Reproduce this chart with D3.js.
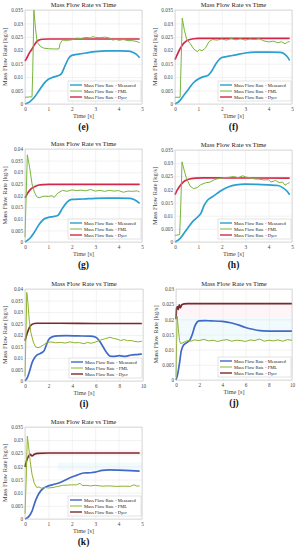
<!DOCTYPE html>
<html>
<head>
<meta charset="utf-8">
<script src="https://cdn.jsdelivr.net/npm/d3@7"></script>
<style>
  body { margin: 0; background: #fff; }
  svg { display: block; font-family: "Liberation Serif", "DejaVu Serif", serif; }
</style>
</head>
<body>
<div id="chart"></div>
<script>
// data: [time s, mass flow kg/s]
const eMeasured = [[0,0],[0.2,0.0008],[0.4,0.0025],[0.6,0.005],[0.8,0.0075],[1.0,0.0092],[1.2,0.0100],[1.4,0.0105],[1.55,0.0112],[1.7,0.0140],[1.85,0.0168],[2.0,0.0181],[2.3,0.0186],[2.6,0.0190],[3.0,0.0195],[3.5,0.0198],[4.0,0.0198],[4.4,0.0197],[4.6,0.0193],[4.75,0.0186],[4.9,0.0172]];
const eFml = [[0,0.0025],[0.3,0.0027],[0.33,0.012],[0.38,0.035],[0.45,0.028],[0.52,0.023],[0.65,0.0215],[0.8,0.0208],[1.0,0.0206],[1.2,0.0205],[1.45,0.0205],[1.5,0.0225],[1.6,0.0238],[1.8,0.0237],[2.0,0.0239],[2.2,0.0245],[2.4,0.0244],[2.6,0.0248],[2.8,0.0246],[2.9,0.0251],[3.0,0.0248],[3.2,0.0247],[3.4,0.0249],[3.6,0.0246],[3.75,0.0238],[3.9,0.0241],[4.0,0.0237],[4.2,0.0240],[4.4,0.0236],[4.6,0.0236],[4.8,0.0232],[4.9,0.0228]];
const eDyer = [[0,0.0160],[0.1,0.0175],[0.2,0.0192],[0.3,0.0205],[0.4,0.0220],[0.5,0.0232],[0.6,0.0238],[0.75,0.0241],[1.0,0.0242],[2,0.0242],[3,0.0242],[4,0.0242],[4.9,0.0242]];

const fMeasured = [[0,0],[0.2,0.0012],[0.4,0.0035],[0.6,0.0058],[0.8,0.0080],[1.0,0.0093],[1.2,0.0101],[1.4,0.0106],[1.55,0.0120],[1.75,0.0150],[2.0,0.0173],[2.3,0.0178],[2.6,0.0183],[3.0,0.0190],[3.5,0.0193],[4.0,0.0193],[4.5,0.0192],[4.7,0.0185],[4.85,0.0170],[4.9,0.0162]];
const fFml = [[0,0.0025],[0.22,0.0025],[0.26,0.015],[0.31,0.032],[0.4,0.0275],[0.5,0.024],[0.65,0.0225],[0.8,0.0205],[0.95,0.0195],[1.05,0.0203],[1.15,0.0198],[1.3,0.0208],[1.45,0.0232],[1.6,0.0240],[1.8,0.0238],[2.0,0.0242],[2.2,0.0238],[2.4,0.0244],[2.6,0.0239],[2.8,0.0243],[3.0,0.0238],[3.2,0.0242],[3.4,0.0240],[3.6,0.0243],[3.8,0.0235],[4.0,0.0231],[4.2,0.0234],[4.4,0.0228],[4.55,0.0232],[4.7,0.0224],[4.8,0.0230],[4.9,0.0233]];
const fDyer = [[0,0.0165],[0.1,0.0185],[0.2,0.0203],[0.3,0.0218],[0.45,0.0232],[0.6,0.0239],[0.8,0.0243],[1.0,0.0244],[4.9,0.0244]];

const gMeasured = [[0,0],[0.2,0.0015],[0.4,0.0042],[0.6,0.0075],[0.8,0.0098],[1.0,0.0106],[1.2,0.0109],[1.4,0.0114],[1.6,0.0145],[1.8,0.0172],[2.0,0.0183],[2.5,0.0185],[3.0,0.0188],[3.5,0.0189],[4.0,0.0189],[4.5,0.0188],[4.7,0.0181],[4.9,0.0166]];
const gFml = [[0,0.002],[0.05,0.02],[0.1,0.0375],[0.2,0.032],[0.3,0.025],[0.4,0.0215],[0.5,0.0195],[0.6,0.019],[0.8,0.0197],[1.0,0.0196],[1.15,0.0199],[1.25,0.0192],[1.4,0.0210],[1.6,0.0222],[1.8,0.0218],[2.0,0.0224],[2.2,0.0221],[2.4,0.0223],[2.6,0.0220],[2.8,0.0226],[3.0,0.0219],[3.2,0.0222],[3.4,0.0218],[3.6,0.0222],[3.8,0.0219],[4.0,0.0221],[4.2,0.0214],[4.4,0.0219],[4.6,0.0218],[4.8,0.0220],[4.9,0.0215]];
const gDyer = [[0,0.019],[0.1,0.0208],[0.2,0.0222],[0.3,0.0232],[0.45,0.0240],[0.6,0.0245],[0.8,0.0247],[1.0,0.0248],[4.9,0.0248]];

const hMeasured = [[0,0],[0.2,0.0012],[0.4,0.0035],[0.6,0.0060],[0.8,0.0082],[1.0,0.0098],[1.1,0.0108],[1.25,0.0140],[1.4,0.0160],[1.6,0.0172],[1.8,0.0185],[2.0,0.0197],[2.3,0.0210],[2.6,0.0217],[3.0,0.0220],[3.5,0.0219],[4.0,0.0217],[4.4,0.0215],[4.6,0.0207],[4.8,0.0192],[4.9,0.0180]];
const hFml = [[0,0.0025],[0.2,0.0028],[0.25,0.015],[0.3,0.0305],[0.4,0.027],[0.5,0.024],[0.65,0.0212],[0.8,0.0203],[0.95,0.0207],[1.1,0.0218],[1.3,0.0225],[1.5,0.0228],[1.7,0.0238],[1.9,0.0242],[2.1,0.0245],[2.3,0.0246],[2.5,0.0249],[2.7,0.0245],[2.9,0.0252],[3.0,0.0248],[3.2,0.0244],[3.4,0.0240],[3.6,0.0239],[3.8,0.0236],[4.0,0.0237],[4.1,0.0228],[4.3,0.0234],[4.45,0.0226],[4.6,0.0228],[4.7,0.0216],[4.8,0.0222],[4.9,0.0226]];
const hDyer = [[0,0.0180],[0.1,0.0198],[0.2,0.0212],[0.35,0.0228],[0.5,0.0236],[0.7,0.0241],[0.9,0.0243],[1.2,0.0244],[4.9,0.0243]];

const iMeasured = [[0,0],[0.2,0.0015],[0.4,0.0045],[0.6,0.0080],[0.8,0.0100],[1.0,0.0112],[1.3,0.0120],[1.6,0.0130],[1.8,0.0155],[2.0,0.0180],[2.3,0.0192],[2.8,0.0196],[3.5,0.0197],[4.5,0.0196],[5.5,0.0195],[6.0,0.0190],[6.3,0.0175],[6.6,0.0150],[6.9,0.0125],[7.2,0.0108],[7.5,0.0107],[8.0,0.0110],[8.5,0.0107],[9.0,0.0113],[9.5,0.0115],[9.9,0.0117]];
const iFml = [[0,0.002],[0.08,0.02],[0.15,0.0385],[0.25,0.034],[0.35,0.027],[0.5,0.021],[0.7,0.017],[0.9,0.0148],[1.1,0.0145],[1.3,0.0148],[1.6,0.0158],[1.9,0.0168],[2.2,0.0170],[2.6,0.0166],[3.0,0.0168],[3.4,0.0165],[3.8,0.0170],[4.2,0.0166],[4.6,0.0167],[5.0,0.0162],[5.3,0.0168],[5.6,0.0164],[6.0,0.0170],[6.4,0.0178],[6.8,0.0184],[7.2,0.0190],[7.5,0.0185],[7.8,0.0182],[8.1,0.0176],[8.4,0.0180],[8.7,0.0175],[9.0,0.0176],[9.3,0.0172],[9.6,0.0170],[9.9,0.0173]];
const iDyer = [[0,0.0175],[0.2,0.0210],[0.4,0.0235],[0.6,0.0246],[0.8,0.0250],[1.0,0.0251],[3,0.0251],[6,0.0250],[9.9,0.0250]];

const jMeasured = [[0,0],[0.15,0.002],[0.3,0.0055],[0.45,0.0095],[0.6,0.0112],[0.8,0.0120],[1.0,0.0125],[1.2,0.0132],[1.4,0.0150],[1.6,0.0175],[1.8,0.0190],[2.0,0.0195],[2.5,0.0196],[3.0,0.0195],[4.0,0.0193],[4.8,0.0188],[5.5,0.0180],[6.0,0.0173],[6.5,0.0168],[7.0,0.0164],[7.5,0.0162],[8.5,0.0161],[10,0.0161]];
const jFml = [[0,0.001],[0.05,0.012],[0.1,0.021],[0.2,0.017],[0.3,0.013],[0.4,0.0120],[0.6,0.0123],[0.8,0.0127],[1.0,0.0130],[1.3,0.0128],[1.6,0.0132],[2.0,0.0130],[2.4,0.0134],[2.8,0.0129],[3.2,0.0131],[3.6,0.0127],[4.0,0.0131],[4.4,0.0133],[4.8,0.0128],[5.2,0.0131],[5.6,0.0130],[6.0,0.0127],[6.4,0.0132],[6.8,0.0130],[7.2,0.0135],[7.6,0.0128],[8.0,0.0131],[8.4,0.0129],[8.8,0.0132],[9.2,0.0128],[9.6,0.0133],[10,0.0131]];
const jDyer = [[0,0.0200],[0.05,0.0235],[0.12,0.0242],[0.2,0.0233],[0.28,0.0248],[0.38,0.0238],[0.5,0.0248],[0.7,0.0251],[1.0,0.0252],[10,0.0252]];

const kMeasured = [[0,0],[0.15,0.0008],[0.3,0.0030],[0.45,0.0070],[0.6,0.0098],[0.8,0.0118],[1.0,0.0126],[1.3,0.0133],[1.6,0.0143],[1.9,0.0156],[2.2,0.0166],[2.5,0.0175],[2.8,0.0176],[3.0,0.0178],[3.3,0.0185],[3.6,0.0187],[4.0,0.0186],[4.5,0.0184],[4.9,0.0182]];
const kFml = [[0,0.002],[0.05,0.015],[0.1,0.0315],[0.15,0.028],[0.22,0.022],[0.3,0.017],[0.4,0.0135],[0.5,0.0120],[0.6,0.0122],[0.7,0.0117],[0.85,0.0120],[1.0,0.0118],[1.2,0.0120],[1.4,0.0124],[1.6,0.0128],[1.8,0.0129],[2.0,0.0130],[2.2,0.0130],[2.35,0.0136],[2.45,0.0127],[2.6,0.0128],[2.8,0.0126],[3.0,0.0128],[3.3,0.0125],[3.6,0.0126],[3.9,0.0124],[4.2,0.0125],[4.5,0.0124],[4.65,0.0130],[4.8,0.0125],[4.9,0.0126]];
const kDyer = [[0,0.0198],[0.08,0.0225],[0.15,0.0238],[0.22,0.0246],[0.3,0.0240],[0.4,0.0246],[0.55,0.0250],[1.0,0.0251],[4.9,0.0251]];

// faint shaded bands in (j) and (k): [t0, t1, y0, y1]
const jBands = [[0.3, 10, 0.0205, 0.025], [0.3, 10, 0.013, 0.0205]];
const kBands = [[0.2, 5, 0.024, 0.0262], [1.4, 5, 0.0185, 0.0215]];

const ticks035 = [0, 0.005, 0.01, 0.015, 0.02, 0.025, 0.03, 0.035];
const ticks04 = [0, 0.005, 0.01, 0.015, 0.02, 0.025, 0.03, 0.035, 0.04];
const ticks03 = [0, 0.005, 0.01, 0.015, 0.02, 0.025, 0.03];
const xTicks5 = [0, 1, 2, 3, 4, 5];
const xTicks10 = [0, 2, 4, 6, 8, 10];

const seriesNames = ["Mass Flow Rate - Measured", "Mass Flow Rate - FML", "Mass Flow Rate - Dyer"];
const colA = ["#2a9fd0", "#7ab43c", "#d3284a"];
const colB = ["#4169c8", "#8cb32c", "#7a2a2c"];

const panels = [
  { tag: "(e)", l: 25, r: 142, t: 10, b: 104, xMax: 5, xT: xTicks5, yT: ticks035, s: [eMeasured, eFml, eDyer], c: colA },
  { tag: "(f)", l: 175, r: 292, t: 10, b: 104, xMax: 5, xT: xTicks5, yT: ticks035, s: [fMeasured, fFml, fDyer], c: colA },
  { tag: "(g)", l: 25, r: 142, t: 149, b: 242, xMax: 5, xT: xTicks5, yT: ticks04, s: [gMeasured, gFml, gDyer], c: colA },
  { tag: "(h)", l: 175, r: 292, t: 150, b: 242, xMax: 5, xT: xTicks5, yT: ticks035, s: [hMeasured, hFml, hDyer], c: colA },
  { tag: "(i)", l: 25, r: 143, t: 289, b: 381, xMax: 10, xT: xTicks10, yT: ticks04, s: [iMeasured, iFml, iDyer], c: colB },
  { tag: "(j)", l: 176, r: 292, t: 289, b: 380, xMax: 10, xT: xTicks10, yT: ticks03, s: [jMeasured, jFml, jDyer], c: colB, bands: jBands },
  { tag: "(k)", l: 25, r: 142, t: 427, b: 519, xMax: 5, xT: xTicks5, yT: ticks035, s: [kMeasured, kFml, kDyer], c: colB, bands: kBands }
];

const svg = d3.select("#chart").append("svg")
  .attr("width", 298)
  .attr("height", 550);

const fmt = d => d === 0 ? "0" : String(+d.toFixed(3));
const bandCol = ["#fef5f8", "#f1fbfd"];

panels.forEach(p => {
  const x = d3.scaleLinear().domain([0, p.xMax]).range([p.l, p.r]),
        y = d3.scaleLinear().domain([0, d3.max(p.yT)]).range([p.b, p.t]);
  const g = svg.append("g");

  g.append("rect").attr("x", p.l).attr("y", p.t).attr("width", p.r - p.l).attr("height", p.b - p.t).attr("fill", "#fff");

  (p.bands || []).forEach((bd, i) => {
    g.append("rect")
      .attr("x", x(bd[0])).attr("width", x(bd[1]) - x(bd[0]))
      .attr("y", y(bd[3])).attr("height", y(bd[2]) - y(bd[3]))
      .attr("fill", bandCol[i]);
  });

  // grid
  g.append("g").attr("transform", `translate(0,${p.b})`)
    .call(d3.axisBottom(x).tickValues(p.xT).tickSize(-(p.b - p.t)).tickFormat(""))
    .call(a => a.select(".domain").remove())
    .selectAll("line").attr("stroke", "#e4e4e4").attr("stroke-width", 0.5);
  g.append("g").attr("transform", `translate(${p.l},0)`)
    .call(d3.axisLeft(y).tickValues(p.yT).tickSize(-(p.r - p.l)).tickFormat(""))
    .call(a => a.select(".domain").remove())
    .selectAll("line").attr("stroke", "#e4e4e4").attr("stroke-width", 0.5);

  // tick labels
  const xa = g.append("g").attr("transform", `translate(0,${p.b})`)
    .call(d3.axisBottom(x).tickValues(p.xT).tickSize(0).tickPadding(3).tickFormat(d3.format("d")));
  const ya = g.append("g").attr("transform", `translate(${p.l},0)`)
    .call(d3.axisLeft(y).tickValues(p.yT).tickSize(0).tickPadding(2).tickFormat(fmt));
  [xa, ya].forEach(a => {
    a.select(".domain").remove();
    a.selectAll("text").attr("font-family", "Liberation Serif, serif").attr("font-size", 5.2).attr("fill", "#444");
  });

  // series
  const line = d3.line().x(d => x(d[0])).y(d => y(d[1]));
  const widths = [1.7, 1, 1.7];
  [0, 2, 1].forEach(k => {
    g.append("path")
      .datum(p.s[k])
      .attr("fill", "none")
      .attr("stroke", p.c[k])
      .attr("stroke-width", widths[k])
      .attr("stroke-linejoin", "round")
      .attr("d", line.curve(k === 1 ? d3.curveLinear : d3.curveMonotoneX));
  });

  // frame
  g.append("rect").attr("x", p.l).attr("y", p.t).attr("width", p.r - p.l).attr("height", p.b - p.t)
    .attr("fill", "none").attr("stroke", "#bdbdbd").attr("stroke-width", 0.5);

  // legend
  const lx = p.r - 74, ly = p.b - 23;
  const leg = g.append("g").attr("transform", `translate(${lx},${ly})`);
  leg.append("rect").attr("width", 73).attr("height", 20).attr("fill", "#fff").attr("stroke", "#bbb").attr("stroke-width", 0.4);
  seriesNames.forEach((n, i) => {
    leg.append("line").attr("x1", 2).attr("x2", 14).attr("y1", 4 + i * 6).attr("y2", 4 + i * 6)
      .attr("stroke", p.c[i]).attr("stroke-width", i === 1 ? 1 : 1.4);
    leg.append("text").attr("x", 16).attr("y", 5.6 + i * 6).attr("font-size", 4.6).attr("fill", "#222").text(n);
  });

  // titles
  const cx = (p.l + p.r) / 2;
  g.append("text").attr("x", cx).attr("y", p.t - 3).attr("text-anchor", "middle").attr("font-size", 6.6).attr("fill", "#222").text("Mass Flow Rate vs Time");
  g.append("text").attr("x", cx).attr("y", p.b + 14).attr("text-anchor", "middle").attr("font-size", 6.2).attr("fill", "#444").text("Time [s]");
  g.append("text").attr("transform", "rotate(-90)").attr("x", -(p.t + p.b) / 2).attr("y", p.l - 18)
    .attr("text-anchor", "middle").attr("font-size", 6.4).attr("fill", "#444").text("Mass Flow Rate [kg/s]");
  g.append("text").attr("x", cx).attr("y", p.b + 26).attr("text-anchor", "middle").attr("font-size", 9.5)
    .attr("font-weight", "bold").attr("fill", "#111").text(p.tag);
});
</script>
</body>
</html>
